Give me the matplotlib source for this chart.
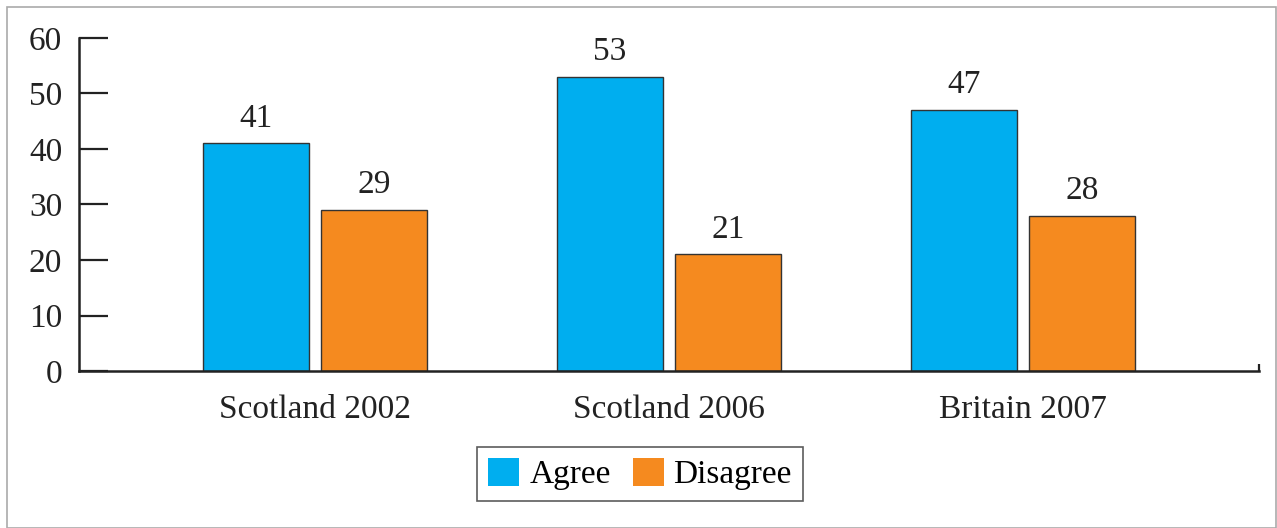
import matplotlib
matplotlib.use("Agg")
import matplotlib.pyplot as plt
import numpy as np
from matplotlib.patches import Rectangle, Patch

categories = ["Scotland 2002", "Scotland 2006", "Britain 2007"]
agree = [41, 53, 47]
disagree = [29, 21, 28]
series_names = ["Agree", "Disagree"]
yticks = [0, 10, 20, 30, 40, 50, 60]

BLUE = "#00AEEF"
ORANGE = "#F58A1F"
FONT = "Liberation Serif"
FS = 24

plt.rcParams["font.family"] = [FONT, "DejaVu Serif"]

fig = plt.figure(figsize=(12.77, 5.28), dpi=100)
ax = fig.add_axes([79/1277, 1-371/528, (1259-79)/1277, (371-38)/528])

x = np.arange(len(categories))
w = 0.30
off = 0.167
b1 = ax.bar(x - off, agree, w, color=BLUE, edgecolor="#333333", linewidth=1.0)
b2 = ax.bar(x + off, disagree, w, color=ORANGE, edgecolor="#333333", linewidth=1.0)

for bars, vals in ((b1, agree), (b2, disagree)):
    for r, v in zip(bars, vals):
        ax.annotate(str(v), (r.get_x() + r.get_width()/2, v), xytext=(0, 7),
                    textcoords="offset points", ha="center", va="bottom",
                    fontsize=FS, color="#222222")

ax.set_xlim(-0.667, 2.667)
ax.set_ylim(0, 60)
ax.set_yticks(yticks)
ax.set_yticklabels([str(t) for t in yticks], fontsize=FS, color="#222222")
ax.tick_params(axis="y", direction="in", length=21, width=1.6, pad=12, color="#222222")
ax.set_xticks(x)
ax.set_xticklabels(categories, fontsize=FS, color="#222222")
ax.tick_params(axis="x", length=0, pad=17)
ax.set_xticks([2.667], minor=True)
ax.tick_params(axis="x", which="minor", direction="in", length=5, width=1.6, color="#222222")

for s in ("top", "right"):
    ax.spines[s].set_visible(False)
for s in ("left", "bottom"):
    ax.spines[s].set_linewidth(1.8)
    ax.spines[s].set_color("#222222")

handles = [Patch(facecolor=BLUE, edgecolor="none"), Patch(facecolor=ORANGE, edgecolor="none")]
leg = fig.legend(handles, series_names, loc="center", ncol=2,
                 bbox_to_anchor=(640/1277, 1-474/528), fontsize=FS,
                 frameon=True, fancybox=False, edgecolor="#333333",
                 handlelength=0.93, handleheight=0.93, handletextpad=0.3,
                 columnspacing=0.66, borderpad=0.33, borderaxespad=0)
leg.get_frame().set_linewidth(1.2)

fig.patches.append(Rectangle((7/1277, 0), (1276-7)/1277, 1-7/528, transform=fig.transFigure,
                             fill=False, edgecolor="#aaaaaa", linewidth=1.2))

fig.savefig("out.png", dpi=100)
